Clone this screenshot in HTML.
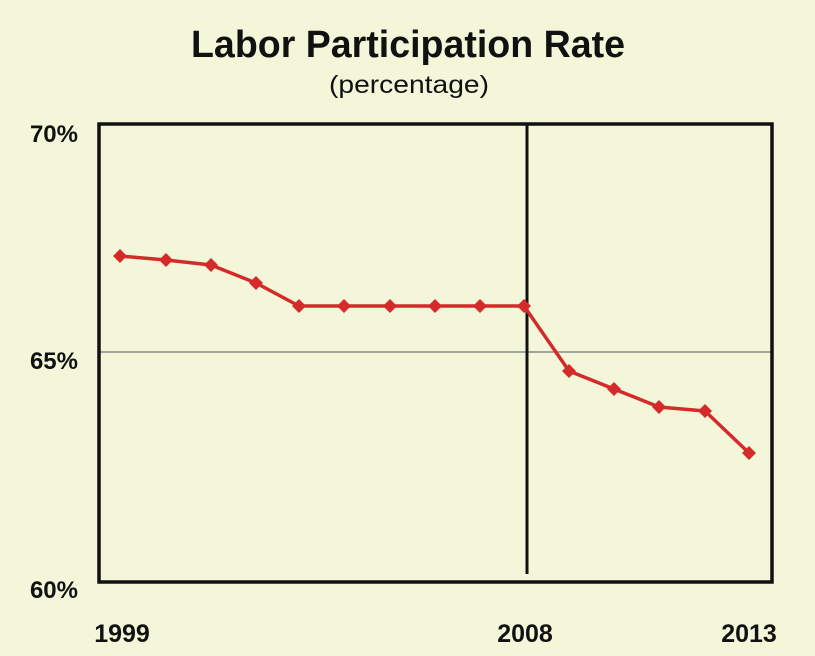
<!DOCTYPE html>
<html><head><style>
body{margin:0;background:#f4f6d9;}
svg{display:block}
text{font-family:"Liberation Sans",sans-serif;fill:#111;font-weight:bold}
</style></head><body>
<svg width="815" height="656" viewBox="0 0 815 656">
<rect width="815" height="656" fill="#f4f6d9"/>
<text x="408" y="57" font-size="38" text-anchor="middle" textLength="434" lengthAdjust="spacingAndGlyphs">Labor Participation Rate</text>
<text x="409" y="93" font-size="25" text-anchor="middle" style="font-weight:normal" textLength="160" lengthAdjust="spacingAndGlyphs">(percentage)</text>
<line x1="99" y1="352" x2="772" y2="352" stroke="#888" stroke-width="1.5"/>
<line x1="527" y1="124" x2="527" y2="574" stroke="#111" stroke-width="3"/>
<rect x="99" y="124" width="673" height="458" fill="none" stroke="#111" stroke-width="3.5"/>
<text x="78" y="142" font-size="24" text-anchor="end">70%</text>
<text x="78" y="369" font-size="24" text-anchor="end">65%</text>
<text x="78" y="598" font-size="24" text-anchor="end">60%</text>
<text x="122" y="642" font-size="25" text-anchor="middle">1999</text>
<text x="525" y="642" font-size="25" text-anchor="middle">2008</text>
<text x="749" y="642" font-size="25" text-anchor="middle">2013</text>
<polyline fill="none" stroke="#d42a2a" stroke-width="3.5" stroke-linejoin="round" points="120,256 166,260 211,265 256,283 299,306 344,306 390,306 435,306 480,306 524,306 569,371 614,389 659,407 705,411 749,453"/>
<g fill="#d42a2a">
<path d="M120,249l7,7l-7,7l-7,-7z"/><path d="M166,253l7,7l-7,7l-7,-7z"/><path d="M211,258l7,7l-7,7l-7,-7z"/><path d="M256,276l7,7l-7,7l-7,-7z"/><path d="M299,299l7,7l-7,7l-7,-7z"/><path d="M344,299l7,7l-7,7l-7,-7z"/><path d="M390,299l7,7l-7,7l-7,-7z"/><path d="M435,299l7,7l-7,7l-7,-7z"/><path d="M480,299l7,7l-7,7l-7,-7z"/><path d="M524,299l7,7l-7,7l-7,-7z"/><path d="M569,364l7,7l-7,7l-7,-7z"/><path d="M614,382l7,7l-7,7l-7,-7z"/><path d="M659,400l7,7l-7,7l-7,-7z"/><path d="M705,404l7,7l-7,7l-7,-7z"/><path d="M749,446l7,7l-7,7l-7,-7z"/>
</g>
</svg>
</body></html>
